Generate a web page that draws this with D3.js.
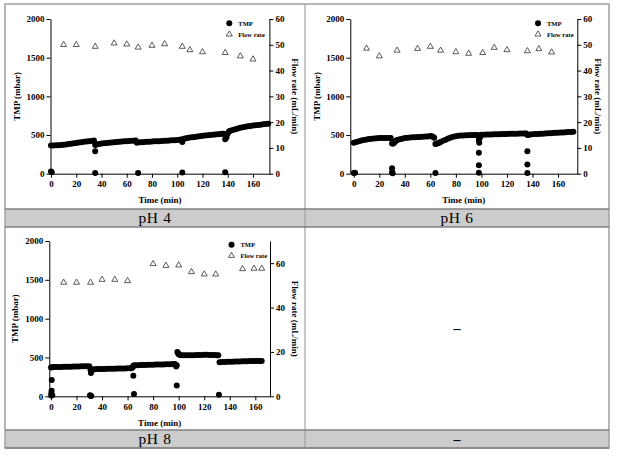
<!DOCTYPE html>
<html><head><meta charset="utf-8">
<script src="https://cdn.jsdelivr.net/npm/d3@7"></script>
<style>body{margin:0;background:#fff} svg{display:block}</style>
</head><body>
<svg id="c" width="618" height="456"></svg>
<script>
// ---------- DATA ----------
const xTicks = [0,20,40,60,80,100,120,140,160];
const tmpTicks = [0,500,1000,1500,2000];
const flowTicksA = [0,10,20,30,40,50,60];
const flowTicksB = [0,20,40,60];
const panelLabels = ["pH 4","pH 6","pH 8","–"];

// [time (min), TMP (mbar)]
const ph4Tmp = [
 [0,365],[2,366],[4,367],[6,368],[8,370],[10,373],[12,378],[14,383],[16,388],[18,393],[20,398],[22,403],[24,408],[26,412],[28,416],[30,420],[32,424],[34,428],
 [35,372],[36,378],[38,385],[40,390],[42,394],[44,398],[46,401],[48,404],[50,407],[52,410],[54,413],[56,416],[58,418],[60,420],[62,422],[64,425],[66,427],[67,428],
 [68,400],[70,405],[72,408],[74,410],[76,412],[78,414],[80,416],[82,418],[84,420],[86,421],[88,423],[90,425],[92,427],[94,429],[96,431],[98,433],[100,436],[102,440],[103,442],
 [104,410],[105,450],[106,455],[108,462],[110,468],[112,472],[114,476],[116,480],[118,485],[120,490],[122,494],[124,498],[126,501],[128,504],[130,507],[132,510],[134,513],[136,516],[137,518],
 [138,445],[139,470],[140,520],[141,545],[142,555],[144,565],[146,575],[148,585],[150,595],[152,602],[154,608],[156,613],[158,618],[160,622],[162,626],[164,630],[166,634],[168,638],[170,642],[172,645],
 [35,290],[0,30],[0.6,20],[35,10],[69,10],[104,15],[138,20]
];
const ph4Flow = [[10,50],[20,50],[35,49.3],[50,50.6],[60,50.2],[69,49],[80,49.7],[90,50.3],[104,49.3],[110,48],[120,47.2],[138,46.9],[150,45.6],[160,44.4]];

const ph6Tmp = [
 [0,400],[2,410],[4,420],[6,428],[8,435],[10,442],[12,447],[14,452],[16,455],[18,458],[20,460],[22,461],[24,462],[26,462],[28,463],[29,462],
 [30,390],[30.5,395],[31,392],[32,405],[33,425],[34,435],[36,445],[38,452],[40,460],[42,465],[44,468],[46,470],[48,472],[50,474],[52,476],[54,478],[56,480],[58,482],[60,486],[61,484],[62,478],[63,465],
 [64,385],[65,390],[66,395],[67,400],[68,410],[70,425],[72,440],[74,455],[76,468],[78,478],[80,485],[82,490],[84,493],[86,495],[88,497],[90,498],[92,499],[94,500],[96,501],[97,500],
 [98,470],[98,430],[98.3,400],[99,470],[100,502],[102,504],[104,506],[106,507],[108,508],[110,509],[112,510],[114,511],[116,512],[118,513],[120,514],[122,515],[124,516],[126,517],[128,518],[130,519],[132,520],[134,521],[135,521],
 [136,500],[137,505],[138,508],[140,510],[142,512],[144,514],[146,516],[148,518],[150,520],[152,522],[154,524],[156,526],[158,528],[160,530],[162,532],[164,534],[166,536],[168,538],[170,540],[172,541],
 [0,10],[1,12],[30,70],[30,20],[30.5,5],[64,8],[98,270],[98,110],[98,12],[136,290],[136,120],[136,10]
];
const ph6Flow = [[10,48.6],[20,45.6],[34,47.8],[50,48.5],[60,49.3],[68,47.8],[80,47.2],[90,46.6],[101,46.9],[110,48.9],[120,48],[136,47.6],[145,48.4],[155,47.1]];

const ph8Tmp = [
 [0,372],[1,375],[2,376],[4,377],[6,378],[8,378],[10,379],[12,380],[14,381],[16,382],[18,383],[20,384],[22,385],[24,386],[26,387],[28,388],[30,388],
 [31,340],[31.3,300],[32,340],[33,345],[34,348],[36,350],[38,351],[40,352],[42,353],[44,354],[46,355],[48,356],[50,356],[52,357],[54,358],[56,358],[58,359],[60,360],[62,361],[63,362],
 [64,375],[64.5,392],[65,398],[66,400],[68,401],[70,402],[72,403],[74,404],[76,405],[78,406],[80,407],[82,408],[84,409],[86,410],[88,411],[90,412],[92,413],[94,414],[96,415],[97,415],
 [98,385],[98.5,400],[99,570],[99.5,555],[100,540],[101,532],[102,530],[104,530],[106,529],[108,529],[110,530],[112,530],[114,531],[116,532],[118,533],[120,534],[122,534],[124,533],[126,532],[128,531],[130,530],[131,528],
 [132,440],[134,442],[136,443],[138,444],[140,445],[142,446],[144,447],[146,448],[148,449],[150,450],[152,451],[154,452],[156,453],[158,454],[160,455],[162,455],[164,455],[165,455],
 [0.2,10],[0.3,40],[0.5,70],[0.6,210],[1,15],[30.6,15],[31,8],[31.5,5],[64.5,265],[65,30],[98.5,140],[131.5,20]
];
const ph8Flow = [[10,51.3],[20,51.3],[31,51.3],[40,52.6],[50,52.6],[60,52],[80,59.7],[90,58.9],[100,59.1],[110,56.1],[120,55],[129,55],[150,57.4],[159,57.6],[165,57.6]];

// ---------- DRAW ----------
const svg = d3.select("#c");
const SERIF = "Liberation Serif";

// table frame
const frame = svg.append("g");
frame.append("rect").attr("x",5).attr("y",209).attr("width",604).attr("height",18).attr("fill","#cccccc");
frame.append("rect").attr("x",5).attr("y",430).attr("width",604).attr("height",18).attr("fill","#cccccc");
frame.append("rect").attr("x",5).attr("y",4).attr("width",604).attr("height",444)
  .attr("fill","none").attr("stroke","#a0a0a0").attr("stroke-width",1.5);
frame.append("line").attr("x1",305).attr("x2",305).attr("y1",4).attr("y2",448).attr("stroke","#a0a0a0").attr("stroke-width",1.2);
[209,227,430,448].forEach(y=>{
  frame.append("line").attr("x1",5).attr("x2",609).attr("y1",y).attr("y2",y).attr("stroke","#808080").attr("stroke-width",1.5);
});
// label cells
[[155,223,0],[457,223,1],[155,444,2],[457,444,3]].forEach(([x,y,i])=>{
  frame.append("text").attr("x",x).attr("y",y).attr("text-anchor","middle")
    .attr("font-family",SERIF).attr("font-size", i===3?14:15.5).attr("font-weight", i===3?"bold":"normal")
    .attr("letter-spacing", i===3?0:0.6)
    .text(panelLabels[i]);
});
// empty cell dash
frame.append("text").attr("x",457).attr("y",333).attr("text-anchor","middle")
  .attr("font-family",SERIF).attr("font-size",14).attr("font-weight","bold").text("–");

function triPath(s){
  const h = s*Math.sqrt(3)/2;
  return `M0,${-2*h/3}L${s/2},${h/3}L${-s/2},${h/3}Z`;
}
const fmt = d3.format("d");

function drawPanel(cfg){
  const g = svg.append("g");
  const x = d3.scaleLinear().domain(cfg.xDomain).range([cfg.left,cfg.right]);
  const y = d3.scaleLinear().domain([0,2000]).range([cfg.bottom,cfg.top]);
  const y2 = d3.scaleLinear().domain([0,cfg.y2max]).range([cfg.bottom,cfg.top]);

  const styleAxis = sel => {
    sel.attr("font-family",SERIF).attr("font-size",9).attr("font-weight","bold");
    sel.selectAll("path,line").attr("stroke","#000").attr("stroke-width",1);
  };
  g.append("g").attr("transform",`translate(0,${cfg.bottom})`)
    .call(d3.axisBottom(x).tickValues(xTicks).tickFormat(fmt).tickSize(4).tickSizeOuter(0).tickPadding(3)).call(styleAxis);
  g.append("g").attr("transform",`translate(${cfg.left},0)`)
    .call(d3.axisLeft(y).tickValues(tmpTicks).tickFormat(fmt).tickSize(4).tickSizeOuter(0).tickPadding(2)).call(styleAxis);
  g.append("g").attr("transform",`translate(${cfg.right},0)`)
    .call(d3.axisRight(y2).tickValues(cfg.y2ticks).tickFormat(fmt).tickSize(4).tickSizeOuter(0).tickPadding(2)).call(styleAxis);

  // TMP points
  g.append("g").selectAll("circle").data(cfg.tmp).join("circle")
    .attr("cx",d=>x(d[0])).attr("cy",d=>y(d[1])).attr("r",3).attr("fill","#000");
  // Flow points
  g.append("g").selectAll("path").data(cfg.flow).join("path")
    .attr("transform",d=>`translate(${x(d[0])},${y2(d[1])})`)
    .attr("d",triPath(6)).attr("fill","#fff").attr("stroke","#333").attr("stroke-width",0.8);

  // titles
  const midY = (cfg.top+cfg.bottom)/2;
  g.append("text").attr("x",(cfg.left+cfg.right)/2).attr("y",cfg.xTitleY).attr("text-anchor","middle")
    .attr("font-family",SERIF).attr("font-size",9).attr("font-weight","bold").text("Time (min)");
  g.append("text").attr("transform",`translate(${cfg.yTitleX},${midY}) rotate(-90)`).attr("text-anchor","middle")
    .attr("font-family",SERIF).attr("font-size",9).attr("font-weight","bold").text("TMP (mbar)");
  g.append("text").attr("transform",`translate(${cfg.y2TitleX},${midY}) rotate(90)`).attr("text-anchor","middle")
    .attr("font-family",SERIF).attr("font-size",9).attr("font-weight","bold").text("Flow rate (mL/min)");

  // legend
  const lg = g.append("g");
  lg.append("circle").attr("cx",cfg.legX).attr("cy",cfg.legY).attr("r",3).attr("fill","#000");
  lg.append("text").attr("x",cfg.legX+9).attr("y",cfg.legY+2.3).attr("font-family",SERIF)
    .attr("font-size",6.5).attr("font-weight","bold").text("TMP");
  lg.append("path").attr("transform",`translate(${cfg.legX},${cfg.legY+11})`).attr("d",triPath(6))
    .attr("fill","#fff").attr("stroke","#333").attr("stroke-width",0.8);
  lg.append("text").attr("x",cfg.legX+9).attr("y",cfg.legY+13.3).attr("font-family",SERIF)
    .attr("font-size",6.5).attr("font-weight","bold").text("Flow rate");
}

drawPanel({tmp:ph4Tmp, flow:ph4Flow, xDomain:[-0.4,173], left:50.5, right:269.4, top:19, bottom:173.7,
  y2max:60, y2ticks:flowTicksA, xTitleY:203, yTitleX:20, y2TitleX:292, legX:229.3, legY:23.3});
drawPanel({tmp:ph6Tmp, flow:ph6Flow, xDomain:[-2.7,175.1], left:350.3, right:577.3, top:19, bottom:173.7,
  y2max:60, y2ticks:flowTicksA, xTitleY:203, yTitleX:320, y2TitleX:595, legX:538, legY:23.3});
drawPanel({tmp:ph8Tmp, flow:ph8Flow, xDomain:[-1.3,171.5], left:49.3, right:270, top:241, bottom:396.3,
  y2max:70, y2ticks:flowTicksB, xTitleY:426, yTitleX:18, y2TitleX:292, legX:231.5, legY:244.7});
</script>
</body></html>
